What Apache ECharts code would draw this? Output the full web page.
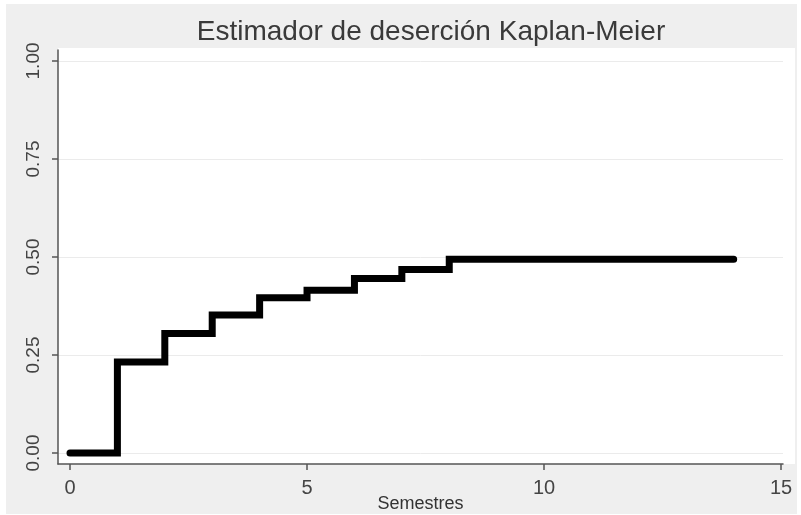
<!DOCTYPE html>
<html>
<head>
<meta charset="utf-8">
<script src="https://cdn.jsdelivr.net/npm/echarts@6/dist/echarts.min.js"></script>
<style>
	html, body { margin: 0; padding: 0; background: #ffffff; }
	#main { width: 801px; height: 515px; }
</style>
</head>
<body>
<div id="main"></div>
<script>
// datos de la curva Kaplan-Meier (semestre, proporción acumulada de deserción)
const semestres = [0, 1, 2, 3, 4, 5, 6, 7, 8, 14];
const desercion = [0, 0.232, 0.305, 0.352, 0.396, 0.415, 0.445, 0.468, 0.494, 0.494];
const xTicks = [0, 5, 10, 15];
const yTicks = [0, 0.25, 0.5, 0.75, 1];

const chart = echarts.init(document.getElementById("main"));

const option = {
	backgroundColor: "#ffffff",
	animation: false,
	textStyle: { fontFamily: "Liberation Sans, Arial, sans-serif" },
	title: {
		text: "Estimador de deserción Kaplan-Meier",
		left: 426,
		textAlign: "center",
		top: 13,
		textStyle: { fontSize: 28, fontWeight: "normal", color: "#3a3a3a" }
	},
	graphic: [
		// fondo gris exterior
		{ type: "rect", z: -10, shape: { x: 6, y: 4, width: 791, height: 510 }, style: { fill: "#efefef" } },
		// región blanca del gráfico
		{ type: "rect", z: -9, shape: { x: 58, y: 48, width: 737, height: 416 }, style: { fill: "#ffffff" } }
	],
	grid: { left: 58, right: 18, top: 50, bottom: 51, outerBoundsMode: "none", containLabel: false },
	xAxis: {
		type: "value",
		min: -0.253,
		max: 15.04,
		name: "Semestres",
		nameLocation: "middle",
		nameGap: 31,
		nameMoveOverlap: false,
		nameTextStyle: { fontSize: 18, color: "#333" },
		axisLine: { onZero: false, lineStyle: { color: "#555", width: 1.5 } },
		axisTick: { customValues: xTicks, length: 6, lineStyle: { color: "#555", width: 1.5 } },
		axisLabel: { customValues: xTicks, fontSize: 20, color: "#444", margin: 14 },
		splitLine: { show: false }
	},
	yAxis: {
		type: "value",
		min: -0.028,
		max: 1.028,
		axisLine: { show: true, onZero: false, lineStyle: { color: "#555", width: 1.5 } },
		axisTick: { show: true, customValues: yTicks, length: 6, lineStyle: { color: "#555", width: 1.5 } },
		axisLabel: {
			customValues: yTicks,
			rotate: 90,
			fontSize: 19,
			color: "#444",
			margin: 15,
			formatter: (v) => v.toFixed(2)
		},
		splitLine: { show: true, lineStyle: { color: "#ebebeb", width: 1 } }
	},
	series: [
		{
			type: "line",
			step: "end",
			symbol: "none",
			clip: false,
			data: semestres.map((s, i) => [s, desercion[i]]),
			lineStyle: { color: "#000000", width: 7, cap: "round", join: "miter" }
		}
	]
};

chart.setOption(option);
</script>
</body>
</html>
